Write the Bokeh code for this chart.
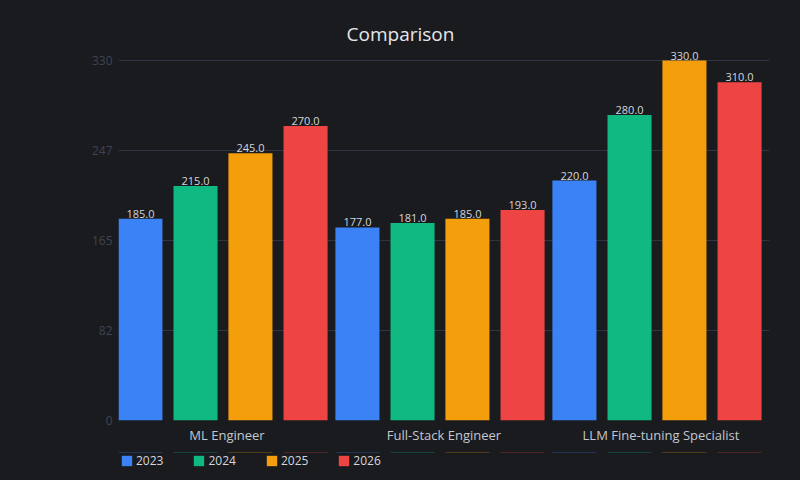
from bokeh.plotting import figure
from bokeh.layouts import column
from bokeh.models import (ColumnDataSource, FactorRange, Range1d, Legend, LegendItem,
                          Label, FixedTicker)
from bokeh.transform import dodge
from bokeh.embed import file_html
from bokeh.resources import INLINE
from bokeh.core.properties import value

# Comparison by role and year
roles = ["ML Engineer", "Full-Stack Engineer", "LLM Fine-tuning Specialist"]
years = ["2023", "2024", "2025", "2026"]
v2023 = [185.0, 177.0, 220.0]
v2024 = [215.0, 181.0, 280.0]
v2025 = [245.0, 185.0, 330.0]
v2026 = [270.0, 193.0, 310.0]
y_ticks = [0, 82.5, 165, 247.5, 330]
y_tick_labels = ["0", "82", "165", "247", "330"]

series = [v2023, v2024, v2025, v2026]
colors = ["#3b82f6", "#10b981", "#f59e0b", "#ef4444"]
offsets = [-0.399, -0.145, 0.108, 0.362]
bar_width = 0.203

FONT = "Open Sans"
BG = "#1a1b1f"

data = {"role": roles}
for yr, vals in zip(years, series):
    data["y" + yr] = vals
    data["t" + yr] = ["%.1f" % v for v in vals]
src = ColumnDataSource(data)

# main chart: frame from y=2 to y=420, with 330 at y=60, so the title and the
# value labels above the tallest bar stay inside the frame
H_MAIN = 452
TOP, BOTTOM = 2, 420
y_top = 330 * (BOTTOM - TOP) / (BOTTOM - 60)

# figures stay transparent; the dark background comes from the page itself
p = figure(width=800, height=H_MAIN, x_range=FactorRange(*roles, range_padding=0),
           y_range=Range1d(0, y_top), output_backend="svg", toolbar_location=None,
           min_border_left=118, min_border_right=31, min_border_top=TOP,
           min_border_bottom=H_MAIN - BOTTOM, background_fill_color=None,
           border_fill_color=None)
p.outline_line_color = None

for yr, col, off in zip(years, colors, offsets):
    x = dodge("role", off, range=p.x_range)
    p.vbar(x=x, top="y" + yr, width=bar_width, source=src,
           fill_color=col, line_color=None)
    p.text(x=x, y="y" + yr, text="t" + yr, source=src, text_align="center",
           text_baseline="alphabetic", y_offset=-5, text_font=value(FONT),
           text_font_size="11px", text_color="#d4d6db")

# axes
p.xgrid.grid_line_color = None
p.ygrid.grid_line_color = "#2f3542"
p.ygrid.ticker = FixedTicker(ticks=y_ticks)
p.yaxis.ticker = FixedTicker(ticks=y_ticks)
p.yaxis.major_label_overrides = {t: s for t, s in zip(y_ticks, y_tick_labels)}
p.yaxis.axis_line_color = None
p.yaxis.major_tick_line_color = None
p.yaxis.minor_tick_line_color = None
p.yaxis.major_tick_out = 0
p.yaxis.major_label_standoff = 6
p.yaxis.major_label_text_color = "#3d4454"
p.yaxis.major_label_text_font = FONT
p.yaxis.major_label_text_font_size = "12px"

p.xaxis.axis_line_color = None
p.xaxis.major_tick_line_color = None
p.xaxis.minor_tick_line_color = None
p.xaxis.major_tick_out = 0
p.xaxis.major_label_standoff = 5
p.xaxis.major_label_text_color = "#c4c7ce"
p.xaxis.major_label_text_font = FONT
p.xaxis.major_label_text_font_size = "13px"

title = Label(x=400 - 118, y=BOTTOM - 33, x_units="screen", y_units="screen",
              text="Comparison", text_align="center", text_baseline="middle",
              text_font=FONT, text_font_size="19px", text_color="#e5e7eb")
p.add_layout(title)

# legend strip under the chart; its series renderers are zero-height bars
# outside the strip's y range, so only their legend swatches show
LH = 480 - H_MAIN
pl = figure(width=800, height=LH, x_range=p.x_range, y_range=Range1d(-20, -10),
            output_backend="svg", toolbar_location=None, min_border=0,
            x_axis_type=None, y_axis_type=None, background_fill_color=None,
            border_fill_color=None)
pl.outline_line_color = None
pl.grid.visible = False

items = []
for yr, col, off in zip(years, colors, offsets):
    x = dodge("role", off, range=pl.x_range)
    r = pl.vbar(x=x, top="y" + yr, bottom="y" + yr, width=bar_width, source=src,
                fill_color=col, line_color=None)
    items.append(LegendItem(label=yr, renderers=[r]))

legend = Legend(items=items, orientation="horizontal", location=(2, LH - 17),
                glyph_width=13, glyph_height=13, label_standoff=3, spacing=29,
                padding=0, margin=0, border_line_color=None,
                background_fill_alpha=0, label_text_color="#d4d6db",
                label_text_font=FONT, label_text_font_size="12px",
                label_height=13)
pl.add_layout(legend, "center")

page = column(p, pl, spacing=0, styles={"background-color": BG})
html = file_html(page, INLINE)
html = html.replace("<head>", "<head><style>html, body { background: %s; margin: 0; }</style>" % BG, 1)
open("out.html", "w").write(html)
